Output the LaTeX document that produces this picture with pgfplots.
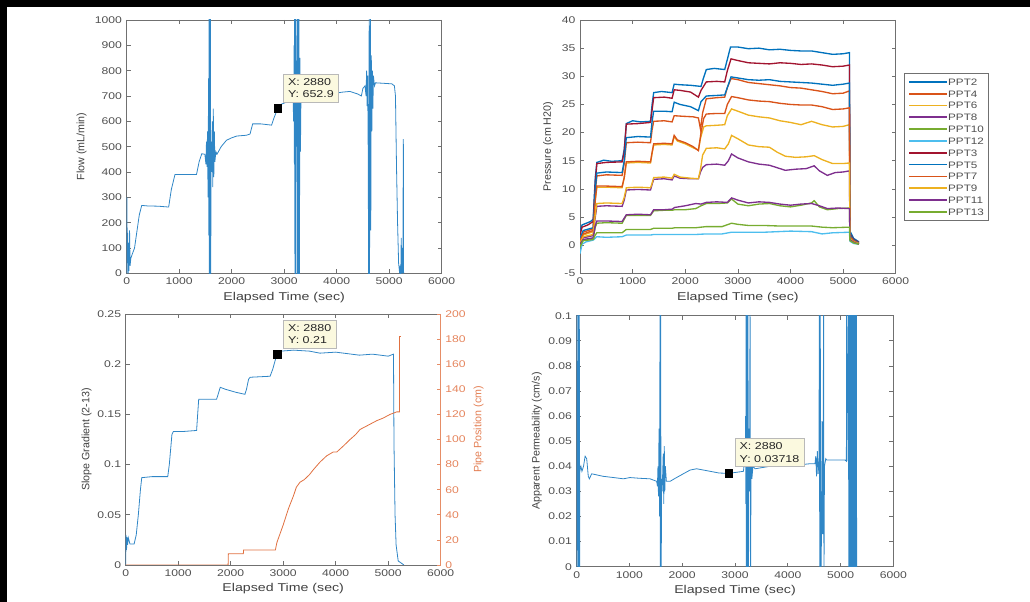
\documentclass[border=0pt]{standalone}
\usepackage{fontspec}
\setmainfont{Liberation Sans}[FakeStretch=1.25]
\newfontfamily\ylfont{Liberation Sans}
\usepackage{pgfplots}
\pgfplotsset{compat=1.18}

\definecolor{mblue}{HTML}{0072BD}
\definecolor{morange}{HTML}{D95319}
\definecolor{myellow}{HTML}{EDB120}
\definecolor{mpurple}{HTML}{7E2F8E}
\definecolor{mgreen}{HTML}{77AC30}
\definecolor{mlblue}{HTML}{4DBEEE}
\definecolor{mred}{HTML}{A2142F}
\definecolor{axc}{HTML}{707070}
\definecolor{tkc}{HTML}{505050}
\definecolor{labc}{HTML}{404040}
\definecolor{tipbg}{HTML}{FBF9DF}
\definecolor{flowc}{HTML}{2F86C6}
\definecolor{pipec}{HTML}{E07040}

\pgfplotsset{
  mat/.style={
    scale only axis, xmin=0, xmax=6000, xtick={0,1000,...,6000},
    axis line style={draw=axc, line width=0.6pt},
    tick style={draw=axc, line width=0.5pt},
    major tick length=3pt, tick align=inside,
    tick label style={font=\fontsize{7.3}{8}\selectfont, text=tkc},
    /pgf/number format/assume math mode=true,
    /pgf/number format/1000 sep={},
    scaled ticks=false,
    xlabel={Elapsed Time (sec)},
    xlabel style={font=\fontsize{8.5}{9}\selectfont, text=labc,
      at={(axis description cs:0.5,-0.095)}, anchor=center},
    ylabel style={font=\ylfont\fontsize{8}{9}\selectfont, text=labc, anchor=center},
  },
  legend image code/.code={\draw[#1, line width=1.3pt] (0pt,0pt) -- (28pt,0pt);},
}
\tikzset{
  tip/.style={draw=gray!55, fill=tipbg, font=\fontsize{7.5}{9.5}\selectfont,
    align=left, inner xsep=3.5pt, inner ysep=3pt, anchor=south west, text=black!85},
}

\begin{document}
\begin{tikzpicture}
\path[use as bounding box] (0,0) rectangle (772.5pt,451.5pt);
\fill[black] (0,446.5pt) rectangle (772.5pt,451.5pt);
\fill[black] (0,0) rectangle (5.25pt,451.5pt);

% ---------- flow ----------
\begin{axis}[mat, at={(95pt,246.5pt)}, anchor=south west,
  width=236.25pt, height=190pt,
  ymin=0, ymax=1000, ytick={0,100,...,1000},
  ylabel={Flow (mL/min)},
  ylabel style={at={(axis description cs:-0.143,0.5)}}]
\addplot[flowc, line width=0.6pt] coordinates {
(0,0)(5,300)(12,40)(20,160)(28,0)(35,120)(45,10)(55,170)(65,30)(80,60)(100,72)
(150,100)(190,158)(240,230)(286,268)(400,266)(600,265)(780,262)(800,262)
(850,330)(920,390)(1100,390)(1330,390)(1380,440)(1430,472)(1490,470)
(1510,430)(1520,520)(1530,420)(1540,560)(1550,300)(1560,770)(1565,150)
(1570,1100)(1575,-50)(1580,600)(1585,-50)(1595,1100)(1600,-50)(1610,520)
(1620,400)(1630,600)(1640,340)(1650,650)(1660,380)(1670,560)(1680,440)
(1700,480)(1720,470)(1800,500)(1900,525)(2000,535)(2100,542)(2280,545)
(2350,550)(2400,590)(2550,590)(2760,585)(2800,610)(2880,652.9)(2950,668)
(3100,680)(3170,690)(3180,600)(3190,900)(3195,430)(3200,1100)(3205,-50)
(3210,1100)(3215,-50)(3220,1100)(3225,-50)(3230,840)(3240,500)(3250,1100)
(3255,-50)(3265,1100)(3270,-50)(3280,1100)(3290,-50)(3300,850)(3310,480)
(3320,700)(3350,690)(3500,695)(3700,700)(3800,700)(3950,710)(4100,715)
(4250,718)(4400,708)(4470,700)(4500,730)(4540,740)(4560,700)(4570,800)
(4580,660)(4590,780)(4600,500)(4610,-50)(4620,1100)(4625,-50)(4635,600)
(4645,1100)(4650,170)(4660,860)(4670,560)(4680,800)(4690,650)(4700,780)
(4720,740)(4740,752)(4900,750)(5050,748)(5100,740)(5120,700)(5140,420)
(5160,200)(5180,40)(5200,0)(5210,30)(5220,-20)(5230,140)(5240,0)(5250,100)
(5260,0)(5270,530)(5275,0)};
\addplot[only marks, mark=square*, mark size=2.9pt, black] coordinates {(2880,652.9)};
\node[tip, xshift=3.9pt, yshift=4.2pt] at (axis cs:2880,652.9) {X: 2880\\Y: 652.9};
\end{axis}

% ---------- pressure ----------
\begin{axis}[mat, at={(435pt,246.5pt)}, anchor=south west,
  width=236.8pt, height=190pt,
  ymin=-5, ymax=40, ytick={-5,0,...,40},
  ylabel={Pressure (cm H20)},
  ylabel style={at={(axis description cs:-0.101,0.5)}},
  legend style={at={(1.026,0.791)}, anchor=north west, draw=axc,
    line width=0.6pt, fill=white, font=\fontsize{7}{7}\selectfont,
    text=tkc, inner xsep=3pt, inner ysep=3.2pt, row sep=2.46pt,
    nodes={inner sep=0.6pt, text height=5.2pt, text depth=0pt},
    cells={anchor=west}},
  every axis plot/.append style={line width=1pt}]
\addplot[draw=mblue] coordinates {(0,2.6)(40,3.6)(120,3.9)(200,4.2)(250,4.6)(290,12)(320,14.7)(450,15.1)(600,14.9)(800,15.0)(840,17)(880,21.6)(1000,22.1)(1150,21.9)(1340,22.0)(1370,25)(1400,27.1)(1550,27.3)(1750,27.1)(1790,28.6)(1900,28.5)(2100,28.4)(2300,28.2)(2340,29.5)(2400,31.2)(2550,31.4)(2750,31.2)(2800,33)(2860,35.2)(3000,35.2)(3200,34.9)(3400,35.0)(3600,34.7)(3800,34.8)(4000,34.6)(4200,34.5)(4400,34.5)(4600,34.2)(4800,33.9)(5000,34.0)(5120,34.2)(5130,2.5)(5200,1.2)(5300,0.6)};
\addplot[draw=morange] coordinates {(0,1.0)(60,2.3)(250,2.9)(290,9.5)(320,12.3)(500,12.5)(800,12.4)(840,14.5)(880,18.2)(1100,18.3)(1340,18.2)(1370,20.5)(1400,22)(1600,22.1)(1750,21.9)(1790,23)(1950,22.9)(2150,22.8)(2250,22.6)(2290,20.6)(2330,23.5)(2400,26)(2600,26.2)(2750,26.3)(2800,28)(2870,29.6)(3000,29.4)(3200,28.9)(3400,28.7)(3600,28.5)(3800,28.3)(4000,28.0)(4200,27.9)(4400,27.6)(4600,27.3)(4800,26.9)(5000,27.0)(5120,27.4)(5130,1.6)(5200,0.8)(5300,0.4)};
\addplot[draw=myellow] coordinates {(0,0.6)(60,1.8)(250,2.4)(290,8)(320,10.3)(500,10.3)(800,10.2)(840,12)(880,14.6)(1100,14.7)(1340,14.6)(1370,16.3)(1400,17.8)(1600,17.9)(1750,17.8)(1790,19.3)(1850,18.5)(2000,18.0)(2150,17.3)(2250,16.9)(2290,19)(2350,21)(2400,21.2)(2600,21.3)(2750,21.4)(2800,23)(2880,24.2)(3000,23.8)(3200,23.1)(3400,22.8)(3600,22.6)(3800,22.1)(4000,21.8)(4200,21.4)(4400,22.0)(4600,21.4)(4800,21.0)(5000,21.1)(5120,21.4)(5130,1.4)(5200,0.7)(5300,0.3)};
\addplot[draw=mpurple] coordinates {(0,0.3)(60,1.3)(250,1.7)(290,5)(320,6.9)(500,7.0)(800,6.9)(840,8)(880,9.8)(1100,9.9)(1340,9.8)(1370,10.8)(1400,11.7)(1600,11.8)(1750,11.6)(1790,12.3)(1900,11.9)(2100,11.8)(2250,11.8)(2290,13)(2330,13.8)(2400,14.3)(2600,14.4)(2750,14.2)(2820,15)(2880,16.2)(3000,15.5)(3200,14.8)(3400,14.4)(3600,14.2)(3800,13.6)(3900,13.3)(4100,13.5)(4300,13.6)(4450,14.1)(4550,13.2)(4700,12.4)(4850,12.9)(5000,13.0)(5120,13.2)(5130,1.1)(5200,0.5)(5300,0.2)};
\addplot[draw=mgreen] coordinates {(0,0.1)(60,0.9)(250,1.2)(290,3.2)(320,3.9)(500,4.0)(800,3.9)(840,4.6)(880,5.3)(1100,5.3)(1340,5.3)(1400,6.1)(1600,6.2)(1750,6.2)(1800,6.3)(2000,6.3)(2200,6.5)(2300,7.0)(2400,7.4)(2600,7.4)(2800,7.5)(2880,8.2)(3000,7.3)(3200,7.0)(3400,7.3)(3600,7.4)(3800,7.0)(4000,6.8)(4200,7.1)(4400,7.5)(4450,7.9)(4550,6.8)(4700,6.3)(4900,6.5)(5120,6.6)(5130,0.9)(5200,0.4)(5300,0.2)};
\addplot[draw=mlblue] coordinates {(0,-1.5)(40,0.2)(120,0.6)(250,0.9)(320,1.5)(500,1.4)(800,1.5)(880,1.8)(1100,1.8)(1340,1.8)(1400,1.9)(1750,1.9)(2200,1.9)(2400,2.0)(2700,2.0)(2880,2.3)(3200,2.3)(3500,2.3)(4000,2.5)(4400,2.4)(4600,2.0)(4800,2.2)(5120,2.3)(5130,0.7)(5200,0.3)(5300,0.2)};
\addplot[draw=mred] coordinates {(0,1.8)(40,3.2)(150,3.6)(250,4.2)(290,11)(320,14.5)(500,14.7)(800,14.8)(840,16.5)(880,21.5)(1100,21.6)(1340,21.8)(1370,24)(1400,26.2)(1600,26.3)(1750,26.1)(1790,27.6)(1900,27.5)(2100,27.2)(2250,26.3)(2300,27.5)(2400,29)(2600,29.1)(2750,29.0)(2800,31)(2870,33.1)(3000,32.8)(3200,32.4)(3400,32.3)(3600,32.2)(3800,32.4)(4000,32.3)(4200,32.1)(4400,32.2)(4600,32.0)(4800,31.7)(5000,31.8)(5120,32.0)(5130,2)(5200,1)(5300,0.5)};
\addplot[draw=mblue] coordinates {(0,1.2)(60,2.6)(250,3.1)(290,10)(320,12.8)(500,13.0)(800,12.9)(840,15)(880,19.1)(1100,19.3)(1340,19.2)(1370,22)(1400,23.8)(1600,23.8)(1750,23.7)(1790,25.4)(1900,25.0)(2100,24.6)(2250,23.9)(2300,25.5)(2400,26.5)(2600,26.6)(2750,26.7)(2800,28)(2870,29.9)(3000,29.7)(3200,29.4)(3400,29.3)(3600,29.4)(3800,29.1)(4000,29.0)(4200,28.9)(4400,28.8)(4600,28.6)(4800,28.4)(5000,28.6)(5120,28.8)(5130,1.8)(5200,0.9)(5300,0.4)};
\addplot[draw=morange] coordinates {(0,0.8)(60,2)(250,2.6)(290,8)(320,10.5)(500,10.5)(800,10.4)(840,12)(880,14.8)(1100,14.9)(1340,14.8)(1370,16.5)(1400,18)(1600,18.1)(1750,18.0)(1790,19.5)(1850,18.7)(2000,18.2)(2150,17.5)(2250,16.8)(2300,20)(2350,22.5)(2400,23.3)(2600,23.4)(2750,23.4)(2800,25)(2880,26.4)(3000,26.2)(3200,25.8)(3400,25.6)(3600,25.5)(3800,25.2)(4000,25.0)(4200,24.9)(4400,24.9)(4600,24.6)(4800,24.1)(5000,24.2)(5120,24.4)(5130,1.5)(5200,0.8)(5300,0.3)};
\addplot[draw=myellow] coordinates {(0,0.4)(60,1.5)(250,1.9)(290,5.5)(320,7.4)(500,7.5)(800,7.4)(840,8.5)(880,10.2)(1100,10.3)(1340,10.2)(1370,11)(1400,12)(1600,12.1)(1750,11.9)(1790,12.6)(1900,12.1)(2100,11.9)(2250,11.8)(2290,13.5)(2330,16)(2400,17.2)(2600,17.3)(2750,17.1)(2820,18)(2880,19.5)(3000,18.9)(3200,17.8)(3400,17.5)(3600,17.4)(3750,16.5)(3900,15.8)(4100,15.6)(4300,15.7)(4450,15.9)(4600,15.2)(4800,14.5)(5000,14.5)(5120,14.6)(5130,1.2)(5200,0.6)(5300,0.3)};
\addplot[draw=mpurple] coordinates {(0,0.2)(60,1.0)(250,1.3)(290,3.5)(320,4.3)(500,4.3)(800,4.2)(840,4.8)(880,5.4)(1100,5.5)(1340,5.4)(1400,6.3)(1600,6.3)(1750,6.4)(1800,6.7)(2000,7.0)(2200,7.4)(2300,7.3)(2400,7.6)(2600,7.7)(2800,7.6)(2880,8.4)(3000,8.0)(3200,7.5)(3400,7.7)(3600,7.6)(3800,7.3)(4000,7.1)(4200,7.3)(4400,7.4)(4550,7.0)(4700,6.5)(4900,6.6)(5120,6.5)(5130,1.0)(5200,0.5)(5300,0.2)};
\addplot[draw=mgreen] coordinates {(0,-0.3)(60,0.8)(250,1.0)(290,1.8)(320,2.2)(500,2.2)(800,2.2)(880,2.8)(1100,2.8)(1340,2.8)(1400,3.0)(1600,3.0)(1750,3.0)(1800,3.1)(2200,3.1)(2400,3.3)(2700,3.3)(2880,3.9)(3000,3.7)(3200,3.5)(3500,3.5)(3800,3.4)(4100,3.4)(4400,3.4)(4600,3.2)(4800,3.1)(5120,3.2)(5130,0.8)(5200,0.4)(5300,0.2)};
\legend{PPT2,PPT4,PPT6,PPT8,PPT10,PPT12,PPT3,PPT5,PPT7,PPT9,PPT11,PPT13}
\end{axis}

% ---------- slope gradient / pipe position ----------
\begin{axis}[mat, at={(94.3pt,27.75pt)}, anchor=south west,
  width=236.25pt, height=188.25pt,
  ymin=0, ymax=0.25, ytick={0,0.05,0.1,0.15,0.2,0.25}, ytick pos=left,
  yticklabel style={/pgf/number format/fixed, /pgf/number format/precision=2},
  ylabel={Slope Gradient (2-13)},
  ylabel style={at={(axis description cs:-0.124,0.5)}}]
\addplot[flowc, line width=0.6pt] coordinates {
(0,0)(5,0.03)(15,0.015)(25,0.028)(35,0.02)(50,0.027)(80,0.021)(160,0.021)
(200,0.03)(240,0.05)(280,0.075)(305,0.087)(500,0.088)(800,0.088)(830,0.1)
(880,0.13)(908,0.133)(1100,0.133)(1350,0.134)(1370,0.15)(1390,0.165)
(1730,0.165)(1760,0.17)(1800,0.177)(1900,0.175)(2100,0.172)(2270,0.17)
(2300,0.175)(2340,0.185)(2370,0.187)(2750,0.188)(2800,0.195)(2880,0.21)
(2950,0.213)(3200,0.214)(3500,0.213)(3700,0.211)(4000,0.212)(4300,0.21)
(4450,0.209)(4700,0.21)(5000,0.208)(5100,0.21)(5110,0.12)(5130,0.05)
(5150,0.02)(5190,0.004)(5300,0.0)};
\addplot[only marks, mark=square*, mark size=2.9pt, black] coordinates {(2880,0.21)};
\node[tip, xshift=4.7pt, yshift=4.5pt] at (axis cs:2880,0.21) {X: 2880\\Y: 0.21};
\end{axis}
\begin{axis}[mat, at={(94.3pt,27.75pt)}, anchor=south west,
  width=236.25pt, height=188.25pt, xlabel={},
  axis x line=none, axis y line*=right,
  y axis line style={draw=pipec!80},
  ytick style={draw=pipec!80},
  ymin=0, ymax=200, ytick={0,20,...,200},
  yticklabel style={text=pipec!85},
  ylabel={Pipe Position (cm)},
  ylabel style={text=pipec!90, rotate=0, at={(axis description cs:1.12,0.54)}}]
\addplot[pipec, line width=0.6pt] coordinates {
(0,0)(1950,0)(1955,9)(2240,9)(2245,12)(2850,12)(2880,18)(2940,25)(3000,32)
(3100,45)(3194,55)(3250,62)(3320,66)(3400,68)(3500,72)(3575,76)(3700,82)
(3828,87)(3950,90)(4019,90)(4150,95)(4273,100)(4380,104)(4463,108)
(4600,111)(4781,115)(4900,117)(5035,120)(5162,122)(5213,122)(5213,182)(5240,182)};
\end{axis}

% ---------- apparent permeability ----------
\begin{axis}[mat, at={(432.5pt,26.5pt)}, anchor=south west,
  width=237.5pt, height=188.25pt,
  ymin=0, ymax=0.1, ytick={0,0.01,0.02,0.03,0.04,0.05,0.06,0.07,0.08,0.09,0.1},
  yticklabel style={/pgf/number format/fixed, /pgf/number format/precision=2},
  ylabel={Apparent Permeability (cm/s)},
  ylabel style={at={(axis description cs:-0.126,0.5)}}]
\addplot[flowc, line width=0.6pt] coordinates {
(0,0)(5,0.11)(10,-0.01)(15,0.02)(20,0.082)(25,0.02)(30,0.11)(35,-0.01)
(40,0.05)(45,0.022)(50,0.11)(55,-0.01)(60,0.038)(80,0.04)(100,0.038)
(130,0.04)(160,0.044)(190,0.043)(220,0.036)(240,0.035)(285,0.037)(500,0.036)
(700,0.0355)(885,0.035)(1010,0.0355)(1200,0.0352)(1390,0.035)(1516,0.034)
(1530,0.032)(1540,0.04)(1550,0.028)(1560,0.055)(1570,0.02)(1580,0.11)
(1585,-0.01)(1590,0.11)(1600,-0.01)(1610,0.035)(1620,0.03)(1640,0.045)
(1650,0.025)(1660,0.048)(1670,0.03)(1680,0.04)(1700,0.034)(1770,0.034)
(1850,0.035)(2020,0.037)(2150,0.0385)(2274,0.039)(2526,0.038)(2700,0.0373)
(2880,0.03718)(3100,0.0378)(3160,0.038)(3195,0.045)(3200,0.06)(3205,0.025)
(3210,0.11)(3215,-0.01)(3225,0.11)(3235,-0.01)(3245,0.11)(3255,-0.01)
(3265,0.055)(3275,0.03)(3285,0.11)(3295,-0.01)(3305,0.05)(3320,0.035)
(3340,0.04)(3380,0.039)(3663,0.04)(4000,0.04)(4170,0.0405)(4420,0.041)
(4516,0.041)(4530,0.044)(4545,0.036)(4560,0.046)(4575,0.037)(4590,0.042)
(4600,0.11)(4605,-0.01)(4615,0.11)(4625,-0.01)(4640,0.015)(4650,0.058)
(4660,0.013)(4670,0.05)(4680,0.11)(4685,-0.01)(4695,0.04)(4720,0.043)
(4737,0.0425)(4900,0.0425)(5084,0.0425)(5110,0.042)(5116,0.11)(5120,0.042)
(5150,0.11)(5155,-0.01)(5160,0.11)(5165,-0.01)(5170,0.11)(5175,-0.01)
(5180,0.11)(5185,-0.01)(5190,0.11)(5195,-0.01)(5200,0.11)(5205,-0.01)
(5210,0.11)(5215,-0.01)(5220,0.11)(5225,-0.01)(5230,0.11)(5235,-0.01)
(5240,0.11)(5245,-0.01)(5250,0.11)(5255,-0.01)(5260,0.11)(5265,-0.01)
(5270,0.11)(5275,-0.01)(5280,0.11)(5285,-0.01)(5290,0.11)(5295,-0.01)
(5300,0.11)(5305,-0.01)};
\addplot[only marks, mark=square*, mark size=2.9pt, black] coordinates {(2880,0.03718)};
\node[tip, xshift=4.5pt, yshift=5pt] at (axis cs:2880,0.03718) {X: 2880\\Y: 0.03718};
\end{axis}
\end{tikzpicture}
\end{document}
